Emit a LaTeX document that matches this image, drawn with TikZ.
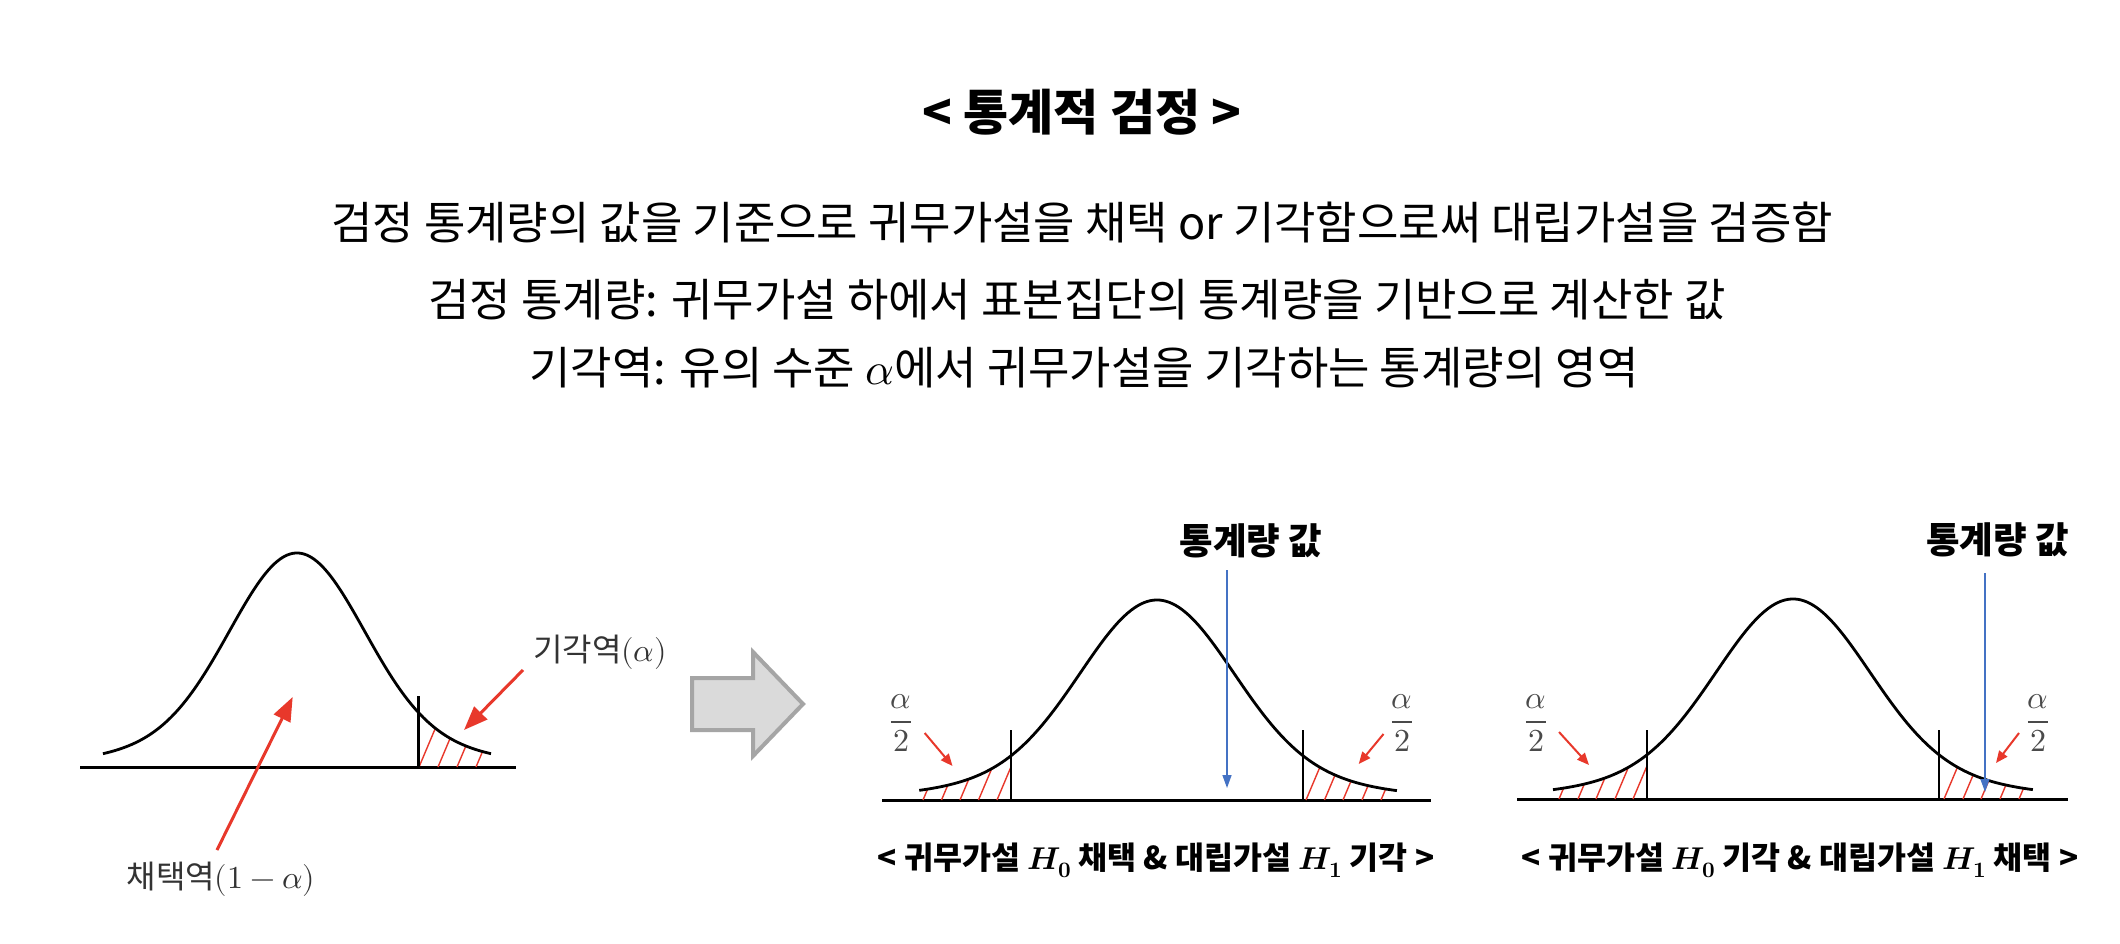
\documentclass[tikz,border=0pt]{standalone}
\usepackage{fontspec}
\usepackage{unicode-math}
\setmainfont{Noto Sans CJK KR}
\setmathfont{Latin Modern Math}
\usetikzlibrary{arrows.meta}
\definecolor{redA}{HTML}{E8382B}
\definecolor{blueA}{HTML}{4472C4}
\definecolor{grayfill}{HTML}{DADADA}
\definecolor{grayline}{HTML}{A5A5A5}
\definecolor{labelgray}{HTML}{333333}
\definecolor{fracgray}{HTML}{4A4A4A}
\begin{document}
\begin{tikzpicture}[x=1pt,y=-1pt,
  declare function={bell(\t)=0.85*exp(-\t*\t/2)+0.15*exp(-\t*\t/8);},
  curve/.style={line width=2.8pt, black, line join=round},
  axisline/.style={line width=3pt, black},
  cutline/.style={line width=2.3pt, black},
  hatch/.style={redA, line width=1.4pt},
  bigred/.style={redA, line width=3pt, -{Triangle[length=24pt,width=18pt]}},
  smallred/.style={redA, line width=2pt, -{Triangle[length=12pt,width=10pt]}},
  bluearrow/.style={blueA, line width=1.5pt, -{Triangle[length=13pt,width=9pt]}},
  blockarrow/.style={fill=grayfill, draw=grayline, line width=4pt, line join=miter},
  titletext/.style={inner sep=0pt, font=\fontsize{49}{58}\selectfont\bfseries},
  bodytext/.style={inner sep=0pt, font=\fontsize{45}{54}\selectfont},
  lbl/.style={inner sep=0pt, text=labelgray, font=\fontsize{32}{38}\selectfont},
  statlbl/.style={inner sep=0pt, font=\fontsize{36.5}{44}\selectfont\bfseries},
  fraclbl/.style={inner sep=0pt, text=fracgray, font=\fontsize{32}{38}\selectfont},
  captiontext/.style={inner sep=0pt, font=\fontsize{31.5}{38}\selectfont\bfseries}
]
\fill[white] (0,0) rectangle (2120,944);
\useasboundingbox (0,0) rectangle (2120,944);

% ---------- texts ----------
\node[titletext] (title) at (1082,112) {< 통계적 검정 >};
\node[bodytext] (l1) at (1082,223) {검정 통계량의 값을 기준으로 귀무가설을 채택 or 기각함으로써 대립가설을 검증함};
\node[bodytext] (l2) at (1077,300) {검정 통계량: 귀무가설 하에서 표본집단의 통계량을 기반으로 계산한 값};
\node[bodytext] (l3) at (1084,368) {기각역: 유의 수준 $\alpha$에서 귀무가설을 기각하는 통계량의 영역};

% ---------- left diagram ----------
\draw[axisline] (80,767) -- (516,767);
\begin{scope}
  \clip (418.4,767) -- plot[domain=1.839:2.94,samples=30] ({297+66*\x},{767-214*bell(\x)}) -- (491,767) -- cycle;
  \foreach \b in {419,438,457,476} \draw[hatch] (\b,767) -- ++(19,-45);
\end{scope}
\draw[cutline] (418.4,696) -- (418.4,767);
\draw[curve] plot[domain=-2.94:2.94,samples=150] ({297+66*\x},{767-214*bell(\x)});
\node[lbl] (rej) at (600,652) {기각역$(\alpha)$};
\node[lbl] (acc) at (221,879) {채택역$(1-\alpha)$};
\coordinate (accTail) at (217,850);
\coordinate (accTip) at (292.7,697);
\coordinate (rejTail) at (523,670);
\coordinate (rejTip) at (464,730);
\draw[bigred] (accTail) -- (accTip);
\draw[bigred] (rejTail) -- (rejTip);

% ---------- block arrow ----------
\draw[blockarrow] (692,678) -- (753,678) -- (753,652) -- (803,704) -- (753,756) -- (753,730) -- (692,730) -- cycle;

% ---------- middle diagram ----------
\draw[axisline] (882,800) -- (1431,800);
\begin{scope}
  \clip (919,800) -- plot[domain=-3.17:-1.947,samples=30] ({1157+75*\x},{800-200*bell(\x)}) -- (1011,800) -- cycle;
  \foreach \b in {923,941.5,960,978.5,997} \draw[hatch] (\b,800) -- ++(19,-45);
\end{scope}
\begin{scope}
  \clip (1303,800) -- plot[domain=1.947:3.2,samples=30] ({1157+75*\x},{800-200*bell(\x)}) -- (1397,800) -- cycle;
  \foreach \b in {1306,1324.5,1343,1362,1381} \draw[hatch] (\b,800) -- ++(19,-45);
\end{scope}
\draw[cutline] (1011,730) -- (1011,800);
\draw[cutline] (1303,730) -- (1303,800);
\draw[curve] plot[domain=-3.17:3.2,samples=150] ({1157+75*\x},{800-200*bell(\x)});
\node[statlbl] (s1) at (1251,541) {통계량 값};
\coordinate (s1a) at (1227,570);
\coordinate (s1b) at (1227,788);
\draw[bluearrow] (s1a) -- (s1b);
\node[fraclbl] (f1) at (901,723) {$\dfrac{\alpha}{2}$};
\node[fraclbl] (f2) at (1402,723) {$\dfrac{\alpha}{2}$};
\coordinate (f1a) at (924.7,733);
\coordinate (f1b) at (952.5,766);
\coordinate (f2a) at (1383.5,734);
\coordinate (f2b) at (1358.7,764);
\draw[smallred] (f1a) -- (f1b);
\draw[smallred] (f2a) -- (f2b);
\node[captiontext] (c1) at (1156,860) {< 귀무가설 $\symbfit{H}_{\symbf{0}}$ 채택 \& 대립가설 $\symbfit{H}_{\symbf{1}}$ 기각 >};

% ---------- right diagram ----------
\draw[axisline] (1517,799) -- (2068,799);
\begin{scope}
  \clip (1554,799) -- plot[domain=-3.2:-1.943,samples=30] ({1793+75*\x},{799-200*bell(\x)}) -- (1647,799) -- cycle;
  \foreach \b in {1559,1578,1596,1615,1633} \draw[hatch] (\b,799) -- ++(19,-45);
\end{scope}
\begin{scope}
  \clip (1939,799) -- plot[domain=1.943:3.2,samples=30] ({1793+75*\x},{799-200*bell(\x)}) -- (2033,799) -- cycle;
  \foreach \b in {1944,1963,1981,2000,2019} \draw[hatch] (\b,799) -- ++(19,-45);
\end{scope}
\draw[cutline] (1647,730) -- (1647,799);
\draw[cutline] (1939,730) -- (1939,799);
\draw[curve] plot[domain=-3.2:3.2,samples=150] ({1793+75*\x},{799-200*bell(\x)});
\node[statlbl] (s2) at (1997.5,540) {통계량 값};
\coordinate (s2a) at (1985,573);
\coordinate (s2b) at (1985,792);
\draw[bluearrow] (s2a) -- (s2b);
\node[fraclbl] (f3) at (1536,723) {$\dfrac{\alpha}{2}$};
\node[fraclbl] (f4) at (2038,723) {$\dfrac{\alpha}{2}$};
\coordinate (f3a) at (1559,732);
\coordinate (f3b) at (1589,765);
\coordinate (f4a) at (2019,733);
\coordinate (f4b) at (1996,763);
\draw[smallred] (f3a) -- (f3b);
\draw[smallred] (f4a) -- (f4b);
\node[captiontext] (c2) at (1800,860) {< 귀무가설 $\symbfit{H}_{\symbf{0}}$ 기각 \& 대립가설 $\symbfit{H}_{\symbf{1}}$ 채택 >};
\end{tikzpicture}
\end{document}
